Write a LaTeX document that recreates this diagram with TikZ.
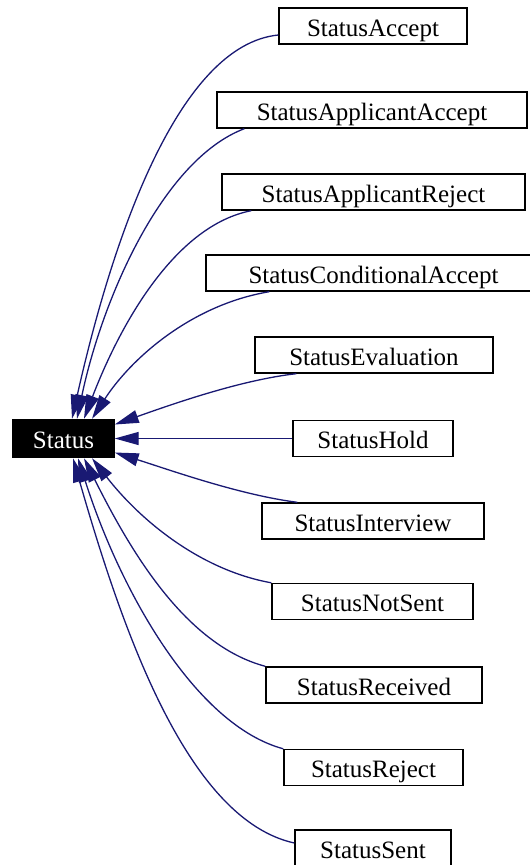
\documentclass[tikz,border=0pt]{standalone}
\usepackage{fontspec}
\setmainfont{Liberation Serif}
\usetikzlibrary{arrows.meta}
\definecolor{edgeblue}{RGB}{25,25,115}
\begin{document}
\begin{tikzpicture}[x=1pt,y=-1pt,
  cls/.style={draw=black, line width=1.4pt, fill=white, inner sep=0pt,
    minimum height=36pt, text height=20pt, text depth=0pt,
    font=\fontsize{25}{30}\selectfont},
  base/.style={cls, fill=black, text=white, minimum height=38pt},
  dep/.style={draw=edgeblue, line width=1.3pt,
    {Triangle[length=24pt,width=13pt]}-}
]
\useasboundingbox (0,0) rectangle (530,865);
\clip (0,0) rectangle (530,865);

% base class
\node[base, minimum width=101pt] (s) at (63.5,438.5) {Status};

% derived classes
\node[cls, minimum width=188pt] (acc)  at (373,26)    {StatusAccept};
\node[cls, minimum width=310pt] (aacc) at (372,110)   {StatusApplicantAccept};
\node[cls, minimum width=303pt] (arej) at (373.5,192) {StatusApplicantReject};
\node[cls, minimum width=335pt] (cacc) at (373.5,273) {StatusConditionalAccept};
\node[cls, minimum width=238pt] (eval) at (374,355)   {StatusEvaluation};
\node[cls, minimum width=160pt] (hold) at (373,438.5) {StatusHold};
\node[cls, minimum width=222pt] (intv) at (373,521)   {StatusInterview};
\node[cls, minimum width=201pt] (nots) at (372.5,601.5) {StatusNotSent};
\node[cls, minimum width=216pt] (recv) at (374,685)   {StatusReceived};
\node[cls, minimum width=179pt] (rej)  at (373.5,767.5) {StatusReject};
\node[cls, minimum width=156pt] (sent) at (373,848)   {StatusSent};

% inheritance edges
\draw[dep] ([xshift=8.5pt]s.north)  .. controls (112,240) and (178,45)  .. ([yshift=-9pt]acc.west);
\draw[dep] ([xshift=13.5pt]s.north) .. controls (102,300) and (162,160) .. ([xshift=28pt]aacc.south west);
\draw[dep] ([xshift=20.5pt]s.north) .. controls (122,320) and (177,225) .. ([xshift=30pt]arej.south west);
\draw[dep] ([xshift=28.5pt]s.north) .. controls (130,360) and (190,305) .. ([xshift=64pt]cacc.south west);
\draw[dep] ([yshift=14pt]s.east)    .. controls (170,405) and (240,380) .. ([xshift=42pt]eval.south west);
\draw[dep] (s.east) -- (hold.west);
\draw[dep] ([yshift=-14pt]s.east)   .. controls (170,470) and (240,495) .. ([xshift=36pt]intv.north west);
\draw[dep] ([xshift=28.5pt]s.south) .. controls (140,520) and (200,570) .. (nots.north west);
\draw[dep] ([xshift=20.5pt]s.south) .. controls (130,550) and (185,645) .. (recv.north west);
\draw[dep] ([xshift=14.5pt]s.south) .. controls (120,590) and (195,725) .. (rej.north west);
\draw[dep] ([xshift=9.5pt]s.south)  .. controls (125,640) and (190,820) .. ([yshift=5pt]sent.west);
\end{tikzpicture}
\end{document}
